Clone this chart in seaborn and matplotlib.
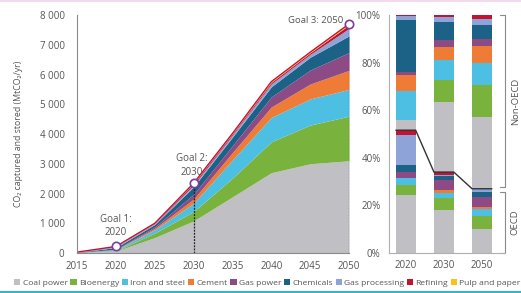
"""CCS deployment by sector: stacked area of CO2 captured plus OECD / non-OECD share bars."""

import matplotlib
matplotlib.use("Agg")
import matplotlib.pyplot as plt
import numpy as np
import seaborn as sns
from matplotlib.lines import Line2D
from matplotlib.patches import Patch
from matplotlib.ticker import FuncFormatter

# ---- data (MtCO2/yr) ----
years = [2015, 2020, 2025, 2030, 2035, 2040, 2045, 2050]
sectors = ["Coal power", "Bioenergy", "Iron and steel", "Cement", "Gas power",
           "Chemicals", "Gas processing", "Refining", "Pulp and paper"]
coal_power = [12, 63, 520, 1080, 1890, 2700, 3000, 3100]
bioenergy = [3, 9, 150, 315, 630, 1040, 1300, 1500]
iron_steel = [4, 32, 110, 280, 610, 820, 880, 900]
cement = [1, 15, 50, 140, 250, 350, 500, 640]
gas_power = [1, 8, 50, 163, 230, 340, 470, 600]
chemicals = [4, 56, 80, 250, 290, 340, 430, 560]
gas_processing = [4, 31, 30, 60, 70, 100, 100, 250]
refining = [1, 6, 10, 50, 40, 50, 50, 120]
pulp_paper = [0, 0, 0, 10, 10, 20, 20, 30]

goal_years = [2020, 2030, 2050]
goal_labels = ["Goal 1:\n2020", "Goal 2:\n2030", "Goal 3: 2050"]

# ---- regional share of capture (%), per bar year ----
bar_years = ["2020", "2030", "2050"]
oecd_share = {
    "Coal power": [24.4, 18.0, 10.0],
    "Bioenergy": [4.2, 5.0, 5.5],
    "Iron and steel": [2.9, 2.3, 3.0],
    "Cement": [0.0, 1.2, 1.0],
    "Gas power": [2.5, 4.2, 4.0],
    "Chemicals": [3.0, 1.5, 2.0],
    "Gas processing": [12.6, 0.6, 1.2],
    "Refining": [2.0, 1.2, 0.3],
    "Pulp and paper": [0.0, 0.0, 0.0],
}
non_oecd_share = {
    "Coal power": [4.4, 29.6, 30.0],
    "Bioenergy": [0.0, 9.1, 13.6],
    "Iron and steel": [12.0, 8.3, 9.4],
    "Cement": [7.0, 5.5, 7.0],
    "Gas power": [1.0, 3.0, 3.0],
    "Chemicals": [22.0, 7.5, 6.0],
    "Gas processing": [1.5, 2.0, 2.5],
    "Refining": [0.5, 1.0, 1.5],
    "Pulp and paper": [0.0, 0.0, 0.0],
}

colors = ["#bfbfc4", "#79b33d", "#4dbfe2", "#ee7c37", "#8c4b85",
          "#1c6186", "#8ea4d9", "#c41230", "#f5c518"]

sns.set_theme(style="white")
plt.rcParams["font.family"] = ["Open Sans", "DejaVu Sans"]
text_col = "#555555"
spine_col = "#8a8a8a"

fig = plt.figure(figsize=(5.21, 2.93), dpi=100)
ax = fig.add_axes([0.148, 0.1365, 0.522, 0.8123])
axr = fig.add_axes([0.7466, 0.1365, 0.2224, 0.8123])

# ---- left: stacked area ----
series = [coal_power, bioenergy, iron_steel, cement, gas_power,
          chemicals, gas_processing, refining, pulp_paper]
ax.stackplot(years, *series, colors=colors, linewidth=0)
total = np.sum(series, axis=0)
ax.plot(years, total, color="#c41230", lw=1.0)

ax.set_xlim(2015, 2050)
ax.set_ylim(0, 8000)
ax.set_xticks(range(2015, 2051, 5))
ax.set_yticks(range(0, 8001, 1000))
ax.yaxis.set_major_formatter(FuncFormatter(lambda v, _: f"{int(v):,}".replace(",", " ")))
ax.set_ylabel("CO₂ captured and stored (MtCO₂/yr)", fontsize=6.3, color=text_col, labelpad=12)
sns.despine(ax=ax)
for s in ["left", "bottom"]:
    ax.spines[s].set_color(spine_col)
    ax.spines[s].set_linewidth(0.8)
ax.tick_params(axis="y", labelsize=7, colors=text_col, length=3, width=0.7,
               color=spine_col, pad=6)
ax.tick_params(axis="x", labelsize=7, colors=text_col, length=3, width=0.7,
               color=spine_col, pad=3)

goal_vals = [total[years.index(y)] for y in goal_years]
ax.vlines(2030, 0, goal_vals[1], color="#222222", lw=0.9, linestyles=(0, (1.5, 1)))
ax.vlines(2050, 0, goal_vals[2], color="#6b3a8c", lw=0.9, linestyles=(0, (1.5, 1)))
ax.plot(goal_years, goal_vals, "o", ms=6, mfc="white", mec="#7a3e9d", mew=1.2,
        clip_on=False, zorder=5)
ax.text(2020, goal_vals[0] + 280, goal_labels[0], ha="center", va="bottom",
        fontsize=7, color=text_col, linespacing=1.3)
ax.text(2029.7, goal_vals[1] + 180, goal_labels[1], ha="center", va="bottom",
        fontsize=7, color=text_col, linespacing=1.3)
ax.text(2049.2, goal_vals[2] + 130, goal_labels[2], ha="right", va="center",
        fontsize=6.8, color=text_col)

# ---- right: regional shares ----
x = np.arange(len(bar_years))
w = 0.52
bottom = np.zeros(len(bar_years))
for share in (oecd_share, non_oecd_share):
    for name, c in zip(sectors, colors):
        vals = np.array(share[name])
        axr.bar(x, vals, w, bottom=bottom, color=c, linewidth=0)
        bottom += vals

oecd_top = np.sum([oecd_share[n] for n in sectors], axis=0)
lx, ly = [], []
for xi, t in zip(x, oecd_top):
    lx += [xi - w / 2, xi + w / 2]
    ly += [t, t]
axr.plot(lx, ly, color="#333333", lw=1.0)

axr.set_xlim(-0.44, 2.6)
axr.set_ylim(0, 100)
axr.set_xticks(x)
axr.set_xticklabels(bar_years)
axr.set_yticks(range(0, 101, 20))
axr.set_yticklabels([f"{v}%" for v in range(0, 101, 20)])
sns.despine(ax=axr, right=True, top=True)
for s in ["left", "bottom"]:
    axr.spines[s].set_color("#b0b0b0")
    axr.spines[s].set_linewidth(0.8)
axr.tick_params(axis="y", labelsize=7, colors=text_col, length=3, width=0.7,
                color=spine_col, pad=3)
axr.tick_params(axis="x", labelsize=7, colors=text_col, length=0, pad=5)

# OECD / Non-OECD bracket on the right
brk_hi, brk_lo = oecd_top[-1] + 0.8, oecd_top[-1] - 1.2
for y0, y1 in [(brk_hi, 100), (0, brk_lo)]:
    axr.plot([1, 1], [y0, y1], color=spine_col, lw=0.8,
             transform=axr.get_yaxis_transform(), clip_on=False)
    for yy in (y0, y1):
        axr.plot([0.96, 1], [yy, yy], color=spine_col, lw=0.8,
                 transform=axr.get_yaxis_transform(), clip_on=False)
axr.text(1.09, (brk_hi + 100) / 2, "Non-OECD", rotation=90, ha="center", va="center",
         fontsize=6.8, color=text_col, transform=axr.get_yaxis_transform())
axr.text(1.09, brk_lo / 2, "OECD", rotation=90, ha="center", va="center",
         fontsize=6.8, color=text_col, transform=axr.get_yaxis_transform())

# ---- legend ----
handles = [Patch(facecolor=c, edgecolor="none") for c in colors]
fig.legend(handles, sectors, loc="center", bbox_to_anchor=(0.513, 0.035), ncol=9,
           frameon=False, fontsize=6.1, handlelength=0.75, handleheight=0.75,
           handletextpad=0.25, columnspacing=0.32, labelcolor=text_col, borderaxespad=0,
           borderpad=0)

# frame decoration lines
fig.add_artist(Line2D([0, 1], [0.996, 0.996], color="#f2d9ee", lw=1.5, transform=fig.transFigure))
fig.add_artist(Line2D([0, 1], [0.004, 0.004], color="#3bb3c9", lw=1.5, transform=fig.transFigure))

fig.savefig("out.png", dpi=100)
